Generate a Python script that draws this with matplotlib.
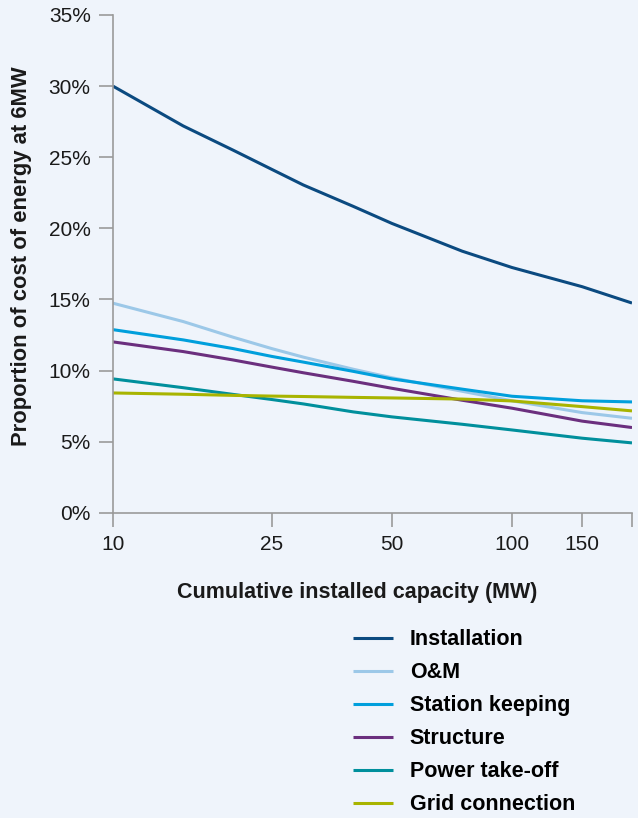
import numpy as np
import matplotlib.pyplot as plt
from matplotlib.ticker import FixedLocator, NullLocator

plt.rcParams['font.family'] = ['Liberation Sans', 'DejaVu Sans']

# cumulative installed capacity (MW)
capacity = [10, 15, 20, 25, 30, 40, 50, 75, 100, 150, 200]

# proportion of cost of energy at 6MW (%)
installation = [30.0, 27.2, 25.5, 24.15, 23.05, 21.55, 20.35, 18.4, 17.25, 15.9, 14.75]
o_and_m = [14.74, 13.45, 12.35, 11.55, 10.95, 10.1, 9.5, 8.55, 7.88, 7.05, 6.65]
station_keeping = [12.88, 12.16, 11.55, 11.0, 10.6, 9.95, 9.42, 8.7, 8.2, 7.88, 7.8]
structure = [12.02, 11.34, 10.75, 10.25, 9.85, 9.25, 8.76, 7.92, 7.36, 6.45, 6.0]
power_take_off = [9.42, 8.8, 8.33, 7.97, 7.66, 7.1, 6.75, 6.23, 5.83, 5.25, 4.92]
grid_connection = [8.43, 8.34, 8.26, 8.21, 8.18, 8.12, 8.08, 8.0, 7.87, 7.47, 7.17]

series = [
    ('Installation', installation, '#0b4a80'),
    ('O&M', o_and_m, '#9cc8e8'),
    ('Station keeping', station_keeping, '#009fdc'),
    ('Structure', structure, '#6b2f7e'),
    ('Power take-off', power_take_off, '#008f9c'),
    ('Grid connection', grid_connection, '#a8b400'),
]

x_ticks = [10, 25, 50, 100, 150, 200]
x_tick_labels = ['10', '25', '50', '100', '150', '']
y_ticks = [0, 5, 10, 15, 20, 25, 30, 35]

bg = '#eff4fb'
fig = plt.figure(figsize=(6.38, 8.18), dpi=100, facecolor=bg)
ax = fig.add_axes([0.177, 0.373, 0.8136, 0.6087], facecolor=bg)

for name, vals, col in series:
    ax.plot(capacity, vals, color=col, lw=2.2, label=name, solid_capstyle='butt')

ax.set_xscale('log')
ax.set_xlim(10, 200)
ax.set_ylim(0, 35)
ax.xaxis.set_major_locator(FixedLocator(x_ticks))
ax.xaxis.set_minor_locator(NullLocator())
ax.set_xticklabels(x_tick_labels)
ax.set_yticks(y_ticks)
ax.set_yticklabels([f'{t}%' for t in y_ticks])

for s in ['top', 'right']:
    ax.spines[s].set_visible(False)
for s in ['left', 'bottom']:
    ax.spines[s].set_color('#9a9a9a')
    ax.spines[s].set_linewidth(1.2)
ax.tick_params(axis='both', colors='#9a9a9a', length=10, width=1.2,
               labelsize=15, labelcolor='#1a1a1a', pad=6)

ax.set_xlabel('Cumulative installed capacity (MW)', fontsize=15.5, fontweight='bold',
              color='#1a1a1a', va='center')
ax.xaxis.set_label_coords(0.471, -0.159)
ax.set_ylabel('Proportion of cost of energy at 6MW', fontsize=15.8, fontweight='bold',
              color='#1a1a1a', va='center')
ax.yaxis.set_label_coords(-0.176, 0.515)

fig.legend(loc='upper left', bbox_to_anchor=(0.553, 0.231), frameon=False,
           prop={'size': 15.5, 'weight': 'bold'}, handlelength=1.85,
           handletextpad=0.8, labelspacing=0.56, borderpad=0, borderaxespad=0)

fig.savefig('out.png', dpi=100, facecolor=bg)
